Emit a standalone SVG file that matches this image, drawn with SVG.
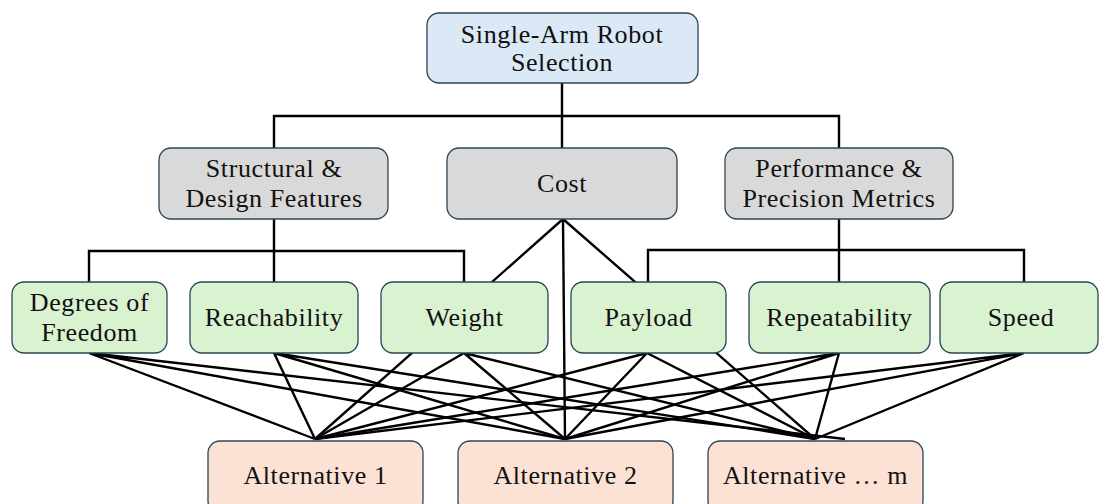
<svg xmlns="http://www.w3.org/2000/svg" width="1100" height="504" viewBox="0 0 1100 504">
<style>
.box{stroke:#2b4557;stroke-width:1.3}
.goal{fill:#dbe8f5}
.dim{fill:#d9d9d9}
.crit{fill:#d9f2d0}
.alt{fill:#fbe2d5}
text{font-family:"Liberation Serif","Times New Roman",serif;font-size:26px;fill:#111;text-anchor:middle;letter-spacing:0.6px}
.con{fill:none;stroke:#000;stroke-width:2.4}
</style>
<rect width="1100" height="504" fill="#fff"/>
<g id="connectors" class="con">
<path d="M562,83 V148"/>
<path d="M274,148 V116 H839 V148"/>
<path d="M274,219 V282 M89,282 V251 H464 V282"/>
<path d="M839,219 V282 M648,282 V250 H1024 V282"/>
<path d="M563,219 L315,439 M563,219 L565,439 M563,219 L815,439"/>
<path d="M89,353 L315,439 M89,353 L565,439 M89,353 L845,439"/>
<path d="M274,353 L315,439 M274,353 L565,439 M274,353 L815,439"/>
<path d="M464,353 L315,439 M464,353 L565,439 M464,353 L815,439"/>
<path d="M647,353 L315,439 M647,353 L565,439 M647,353 L815,439"/>
<path d="M839,353 L315,439 M839,353 L565,439 M839,353 L815,439"/>
<path d="M1024,353 L315,439 M1024,353 L565,439 M1024,353 L815,439"/>
</g>
<g id="goal"><rect class="box goal" x="427" y="13" width="271" height="70" rx="12"/><text x="562" y="43">Single-Arm Robot</text><text x="562" y="71">Selection</text></g>
<g id="structural"><rect class="box dim" x="159" y="148" width="229" height="71" rx="12"/><text x="274" y="177">Structural &amp;</text><text x="274" y="207">Design Features</text></g>
<g id="cost"><rect class="box dim" x="447" y="148" width="230" height="71" rx="12"/><text x="562" y="192">Cost</text></g>
<g id="performance"><rect class="box dim" x="725" y="148" width="228" height="71" rx="12"/><text x="839" y="177">Performance &amp;</text><text x="839" y="207">Precision Metrics</text></g>
<g id="dof"><rect class="box crit" x="12" y="282" width="155" height="71" rx="12"/><text x="89.5" y="311">Degrees of</text><text x="89.5" y="341">Freedom</text></g>
<g id="reach"><rect class="box crit" x="190" y="282" width="168" height="71" rx="12"/><text x="274" y="326">Reachability</text></g>
<g id="weight"><rect class="box crit" x="381" y="282" width="167" height="71" rx="12"/><text x="464.5" y="326">Weight</text></g>
<g id="payload"><rect class="box crit" x="571" y="282" width="155" height="71" rx="12"/><text x="648.5" y="326">Payload</text></g>
<g id="repeat"><rect class="box crit" x="749" y="282" width="181" height="71" rx="12"/><text x="839.5" y="326">Repeatability</text></g>
<g id="speed"><rect class="box crit" x="940" y="282" width="158" height="71" rx="12"/><text x="1021" y="326">Speed</text></g>
<g id="alt1"><rect class="box alt" x="208" y="441" width="215" height="72" rx="12"/><text x="315.5" y="484">Alternative 1</text></g>
<g id="alt2"><rect class="box alt" x="458" y="441" width="215" height="72" rx="12"/><text x="565.5" y="484">Alternative 2</text></g>
<g id="altm"><rect class="box alt" x="708" y="441" width="215" height="72" rx="12"/><text x="815.5" y="484">Alternative … m</text></g>
</svg>
